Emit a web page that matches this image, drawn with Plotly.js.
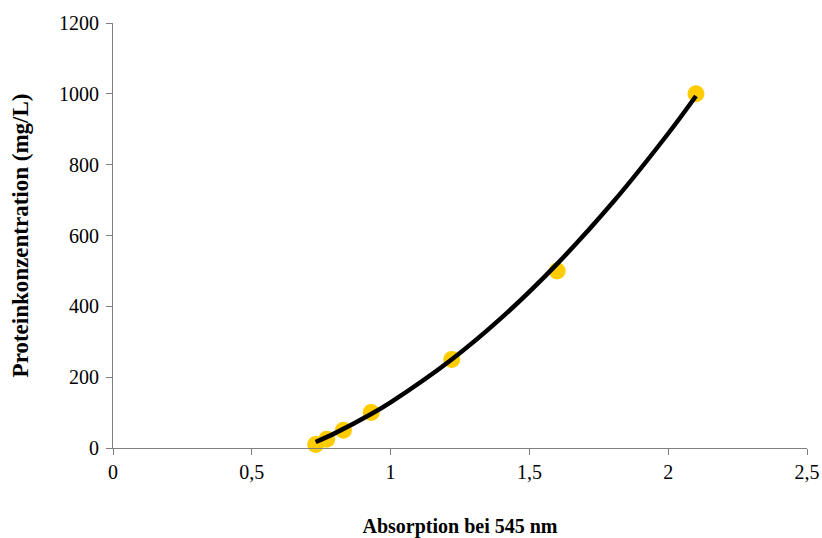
<!DOCTYPE html>
<html>
<head>
<meta charset="utf-8">
<script src="https://cdn.plot.ly/plotly-3.0.1.min.js"></script>
<style>html,body{margin:0;padding:0;background:#fff;}#chart{width:822px;height:538px;}</style>
</head>
<body>
<div id="chart"></div>
<script>
// Measured points
const absorption = [0.73, 0.77, 0.83, 0.93, 1.22, 1.60, 2.10];
const concentration = [10, 25, 50, 100, 250, 500, 1000];
// Trend line
const trendX = [0.73, 0.8, 0.93, 1.0, 1.22, 1.4, 1.6, 1.8, 2.0, 2.1];
const trendY = [17, 42, 96, 129, 250, 368, 520, 693, 888, 994];
const xTicks = [0, 0.5, 1, 1.5, 2, 2.5];
const yTicks = [0, 200, 400, 600, 800, 1000, 1200];

const fam = 'Liberation Serif, Times New Roman, serif';
const tickFont = {family: fam, color: '#000', size: 20};

const traces = [
  {x: absorption, y: concentration, type: 'scatter', mode: 'markers',
   marker: {color: '#FFCC00', size: 17, line: {width: 0}}, cliponaxis: false, hoverinfo: 'x+y'},
  {x: trendX, y: trendY, type: 'scatter', mode: 'lines',
   line: {color: '#000', width: 4.5, shape: 'spline', smoothing: 1}, cliponaxis: false}
];

const layout = {
  width: 822, height: 538,
  margin: {l: 113, r: 15, t: 23, b: 90},
  paper_bgcolor: '#fff', plot_bgcolor: '#fff',
  showlegend: false,
  separators: ', ',
  font: tickFont,
  xaxis: {
    range: [0, 2.5], tickvals: xTicks, ticks: 'outside', ticklen: 6, tickcolor: '#808080',
    showline: true, linecolor: '#808080', linewidth: 1, showgrid: false, zeroline: false,
    tickfont: tickFont,
    title: {text: '<b>Absorption bei 545 nm</b>', font: {family: fam, color: '#000', size: 20}, standoff: 42}
  },
  yaxis: {
    range: [0, 1200], tickvals: yTicks, ticks: 'outside', ticklen: 6, tickcolor: '#808080',
    showline: true, linecolor: '#808080', linewidth: 1, showgrid: false, zeroline: false,
    tickfont: tickFont, ticklabelstandoff: 3,
    title: {text: '<b>Proteinkonzentration (mg/L)</b>', font: {family: fam, color: '#000', size: 23}, standoff: 23}
  }
};

Plotly.newPlot('chart', traces, layout, {displayModeBar: false, staticPlot: true});
</script>
</body>
</html>
